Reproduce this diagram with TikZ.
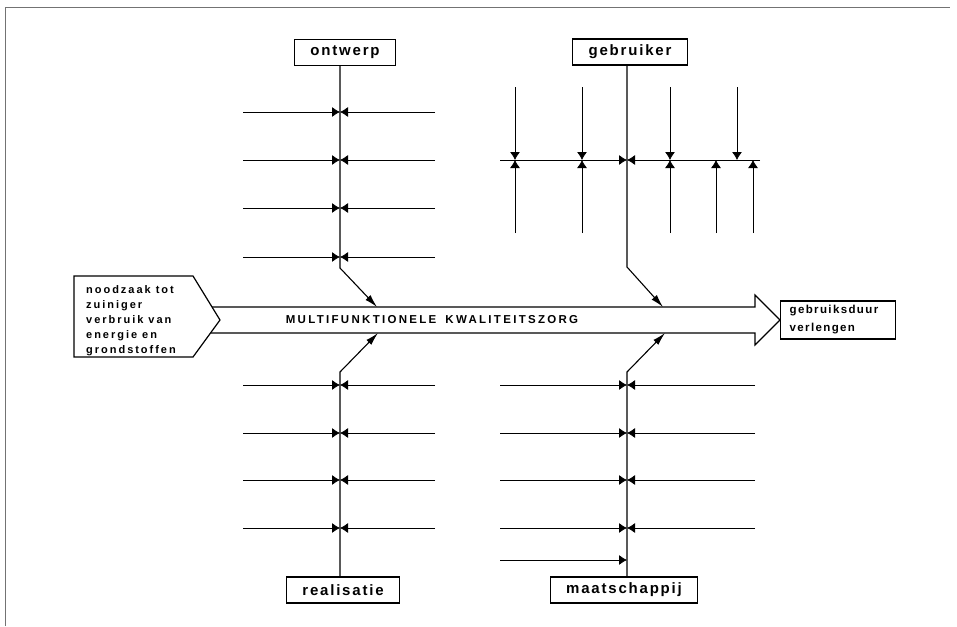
\documentclass[tikz,border=0pt]{standalone}
\usepackage{fontspec}
\setmainfont{Liberation Sans}
\usetikzlibrary{arrows.meta,positioning}

\tikzset{
  lbl/.style={draw, line width=1.2pt, inner xsep=16pt, minimum height=26pt,
    font=\fontsize{15}{18}\selectfont\bfseries\addfontfeature{LetterSpace=12}},
  rib/.style={line width=0.8pt},
  tip/.style={-{Latex[length=8pt,width=10pt]}},
  spine/.style={line width=1.1pt},
  bigtip/.style={-{Latex[length=13pt,width=7pt]}},
}

\begin{document}
\begin{tikzpicture}[x=1pt,y=1pt,yscale=-1,xscale=1]
\useasboundingbox (0,0) rectangle (957,626);
%Straight Lines (frame)
\draw [black!55, line width=0.8pt] (5,626) -- (5,7) -- (950,7);

% Text Node
\node [lbl] (ontwerp) at (345,52.5) {ontwerp};
% Text Node
\node [lbl] (gebruiker) at (630,52) {gebruiker};
% Text Node
\node [lbl] (realisatie) at (343,590) {realisatie};
% Text Node
\node [lbl] (maatschappij) at (624,590) {maatschappij};
% Text Node
\node [draw, line width=1.2pt, anchor=west, align=left, text width=97pt, inner xsep=9pt,
  minimum height=38pt, font=\fontsize{11.5}{18}\selectfont\bfseries\addfontfeature{LetterSpace=12}]
  (verlengen) at (780,320) {gebruiksduur\\verlengen};
% Text Node
\node [anchor=north west, align=left, inner sep=0pt,
  font=\fontsize{11}{15}\selectfont\bfseries\addfontfeature{LetterSpace=18}]
  (noodzaak) at (86,285) {noodzaak tot\\zuiniger\\verbruik van\\energie en\\grondstoffen};
% Text Node
\node [font=\fontsize{11.5}{13}\selectfont\bfseries\addfontfeature{LetterSpace=20}]
  (zorg) at (432,320) {MULTIFUNKTIONELE\hspace{9pt}KWALITEITSZORG};

%Shape: Pentagon
\draw [line width=1.2pt] (193,276) -- (74,276) -- (74,357) -- (193,357) -- (220,320) -- cycle;
%Shape: Big Arrow
\draw [line width=1.2pt] (212,307) -- (755,307) -- (755,295) -- (verlengen.west)
  -- (755,345) -- (755,333) -- (210.5,333);

% bends and tips
\coordinate (oBend) at (340,268);
\coordinate (oTip) at (377,307);
\coordinate (gBend) at (627,267);
\coordinate (gTip) at (663,307);
\coordinate (rBend) at (340,372);
\coordinate (rTip) at (378,333);
\coordinate (mBend) at (627,372);
\coordinate (mTip) at (665,333);

%Straight Lines (spines)
\draw [spine,bigtip] (ontwerp.south -| oBend) -- (oBend) -- (oTip);
\draw [spine,bigtip] (gebruiker.south -| gBend) -- (gBend) -- (gTip);
\draw [spine,bigtip] (realisatie.north -| rBend) -- (rBend) -- (rTip);
\draw [spine,bigtip] (maatschappij.north -| mBend) -- (mBend) -- (mTip);

%Straight Lines (ontwerp, realisatie)
\foreach \y in {112,160,208,257,385,433,480,528}{
  \draw [rib,tip] (243,\y) -- (340,\y);
  \draw [rib,tip] (435,\y) -- (340,\y);
}
%Straight Lines (maatschappij)
\foreach \y in {385,433,480,528}{
  \draw [rib,tip] (500,\y) -- (627,\y);
  \draw [rib,tip] (755,\y) -- (627,\y);
}
\draw [rib,tip] (500,560) -- (627,560);

%Straight Lines (gebruiker)
\draw [rib,tip] (500,160) -- (627,160);
\draw [rib,tip] (760,160) -- (627,160);
\foreach \x in {515,582,670}{
  \draw [rib,tip] (\x,87) -- (\x,160);
  \draw [rib,tip] (\x,233) -- (\x,160);
}
\draw [rib,tip] (716,233) -- (716,160);
\draw [rib,tip] (737,87) -- (737,160);
\draw [rib,tip] (753,233) -- (753,160);
\end{tikzpicture}
\end{document}
